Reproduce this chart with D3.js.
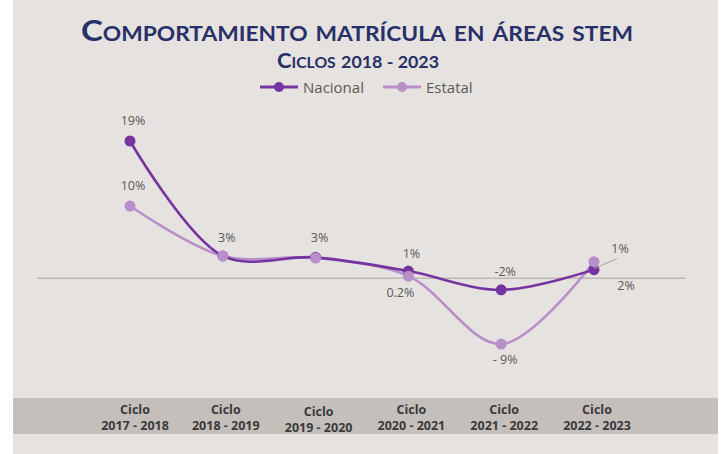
<!DOCTYPE html>
<html><head><meta charset="utf-8">
<script src="https://cdn.jsdelivr.net/npm/d3@7"></script>
<style>
html,body{margin:0;padding:0;background:#ffffff;}
svg{display:block;}
</style></head>
<body>
<script>
const categories = ["2017 - 2018","2018 - 2019","2019 - 2020","2020 - 2021","2021 - 2022","2022 - 2023"];
const nacional = [19, 3.1, 2.9, 1.0, -1.6, 1.2];
const estatal  = [10, 3.1, 2.8, 0.3, -9.1, 2.3];
const nacionalLabels = ["19%","3%","3%","1%","-2%","1%"];
const estatalLabels  = ["10%","","","0.2%","- 9%","2%"];

const W = 723, H = 454;
const cNac = "#7534a0", cEst = "#b890c9";
const svg = d3.select("body").append("svg").attr("width", W).attr("height", H);

svg.append("rect").attr("x", 13).attr("y", 0).attr("width", 705).attr("height", H).attr("fill", "#e6e2df");
svg.append("rect").attr("x", 13).attr("y", 398).attr("width", 705).attr("height", 36).attr("fill", "#c4bfbb");

// Titles
svg.append("text").attr("x", 357).attr("y", 41).attr("text-anchor", "middle")
  .attr("font-family", "Lato").attr("font-weight", 700).attr("font-size", 29)
  .attr("textLength", 552).attr("lengthAdjust", "spacingAndGlyphs")
  .style("font-variant", "small-caps").attr("fill", "#283069")
  .text("Comportamiento matrícula en áreas stem");
const sub = svg.append("text").attr("x", 358).attr("y", 68).attr("text-anchor", "middle")
  .attr("font-family", "Lato").attr("font-weight", 700).attr("font-size", 21)
  .attr("textLength", 162).attr("lengthAdjust", "spacingAndGlyphs")
  .style("font-variant", "small-caps").attr("fill", "#283069");
sub.append("tspan").text("Ciclos ");
sub.append("tspan").attr("font-size", 17).text("2018 - 2023");

// Legend
const legend = [{name:"Nacional", color:cNac, x:260}, {name:"Estatal", color:cEst, x:383}];
legend.forEach(l => {
  const g = svg.append("g");
  g.append("line").attr("x1", l.x).attr("x2", l.x + 38).attr("y1", 87).attr("y2", 87)
    .attr("stroke", l.color).attr("stroke-width", 3);
  g.append("circle").attr("cx", l.x + 19).attr("cy", 87).attr("r", 5).attr("fill", l.color);
  g.append("text").attr("x", l.x + 43).attr("y", 92.5).attr("font-family", "Open Sans")
    .attr("font-size", 15).attr("fill", "#595959").text(l.name);
});

const x = d3.scalePoint().domain(categories).range([130, 594]);
const y = d3.scaleLinear().domain([-10, 20]).range([278.3 + 72.26, 278.3 - 144.52]);

// Zero line
svg.append("line").attr("x1", 37).attr("x2", 686).attr("y1", y(0)).attr("y2", y(0))
  .attr("stroke", "#bdb8b4").attr("stroke-width", 1.5);

const line = d3.line().x((d, i) => x(categories[i])).y(d => y(d)).curve(d3.curveCatmullRom.alpha(0.5));

[[estatal, cEst], [nacional, cNac]].forEach(([data, col]) => {
  svg.append("path").attr("d", line(data)).attr("fill", "none").attr("stroke", col).attr("stroke-width", 2.6);
});
[[nacional, cNac], [estatal, cEst]].forEach(([data, col]) => {
  svg.append("g").selectAll("circle").data(data).join("circle")
    .attr("cx", (d, i) => x(categories[i])).attr("cy", d => y(d)).attr("r", 5.5).attr("fill", col);
});

// Data labels: offsets relative to points
const lblStyle = s => s.attr("font-family", "Open Sans").attr("font-size", 12.5).attr("fill", "#595959").attr("text-anchor", "middle");
const nacOff = [[3,-16],[4,-14],[4,-15],[3,-13],[4,-14],[null,null]];
const estOff = [[3,-16],[0,0],[0,0],[-8,21],[4,20],[32,28]];
nacional.forEach((v, i) => {
  if (!nacionalLabels[i] || nacOff[i][0] === null) return;
  svg.append("text").attr("x", x(categories[i]) + nacOff[i][0]).attr("y", y(v) + nacOff[i][1])
    .call(lblStyle).text(nacionalLabels[i]);
});
estatal.forEach((v, i) => {
  if (!estatalLabels[i]) return;
  svg.append("text").attr("x", x(categories[i]) + estOff[i][0]).attr("y", y(v) + estOff[i][1])
    .call(lblStyle).text(estatalLabels[i]);
});
// Last nacional label with leader line
{
  const i = 5, px = x(categories[i]), py = y(nacional[i]);
  svg.append("line").attr("x1", px).attr("y1", py - 1).attr("x2", px + 23).attr("y2", py - 11)
    .attr("stroke", "#a6a6a6").attr("stroke-width", 1);
  svg.append("text").attr("x", px + 26).attr("y", py - 17).call(lblStyle).text(nacionalLabels[i]);
}

// Category labels
const cat = svg.append("g");
categories.forEach((c, i) => {
  const cx = x(c) + (i === 0 ? 5 : 3);
  const dy = i === 2 ? 2 : 0;
  cat.append("text").attr("x", cx).attr("y", 414 + dy).attr("text-anchor", "middle")
    .attr("font-family", "Open Sans").attr("font-weight", 700).attr("font-size", 12.5).attr("fill", "#3a3a3a").text("Ciclo");
  cat.append("text").attr("x", cx).attr("y", 430 + dy).attr("text-anchor", "middle")
    .attr("font-family", "Open Sans").attr("font-weight", 700).attr("font-size", 12.5).attr("fill", "#3a3a3a").text(c);
});
</script>
</body></html>
